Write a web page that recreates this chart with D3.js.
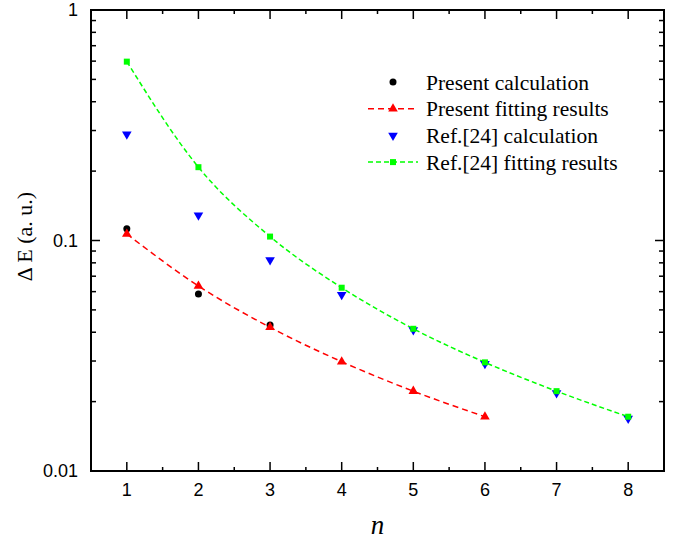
<!DOCTYPE html>
<html><head><meta charset="utf-8">
<script src="https://cdn.jsdelivr.net/npm/d3@7"></script>
<style>body{margin:0;background:#fff}svg{display:block}</style>
</head><body>
<svg id="c" width="685" height="541"></svg>
<script>
const nAll = [1,2,3,4,5,6,7,8];
const presentCalcN = [1,2,3];
const presentCalc = [0.1125,0.0586,0.0430];
const presentFitN = [1,2,3,4,5,6];
const presentFit = [0.1067,0.0635,0.0420,0.0298,0.0222,0.0172];
const refCalcN = [1,2,3,4,5,6,7,8];
const refCalc = [0.289,0.1286,0.0823,0.0582,0.0409,0.0292,0.0218,0.0169];
const refFitN = [1,2,3,4,5,6,7,8];
const refFit = [0.597,0.208,0.104,0.0624,0.0414,0.0296,0.0222,0.0172];
const yTickValues = [0.01,0.1,1];
const yTickLabels = ["0.01","0.1","1"];
const legendLabels = ["Present calculation","Present fitting results","Ref.[24] calculation","Ref.[24] fitting results"];

const svg = d3.select("#c");
const L=91, R=664, T=10, B=471;
const x = d3.scaleLinear().domain([0.5,8.5]).range([L,R]);
const y = d3.scaleLog().domain([0.01,1]).range([B,T]);

const yMinor = [];
[0.01,0.1].forEach(d=>{for(let k=2;k<=9;k++) yMinor.push(d*k);});
const xMinor = d3.range(1.5,8.5,1);

const g = svg.append("g");
const tickStroke = "#000";
[[L,1],[R,-1]].forEach(([x0,dir])=>{
  g.selectAll(null).data(yTickValues).enter().append("line")
    .attr("x1",x0).attr("x2",x0+dir*9).attr("y1",d=>y(d)).attr("y2",d=>y(d))
    .attr("stroke",tickStroke).attr("stroke-width",1.5);
  g.selectAll(null).data(yMinor).enter().append("line")
    .attr("x1",x0).attr("x2",x0+dir*5).attr("y1",d=>y(d)).attr("y2",d=>y(d))
    .attr("stroke",tickStroke).attr("stroke-width",1.5);
});
[[B,-1],[T,1]].forEach(([y0,dir])=>{
  g.selectAll(null).data(nAll).enter().append("line")
    .attr("x1",d=>x(d)).attr("x2",d=>x(d)).attr("y1",y0).attr("y2",y0+dir*9)
    .attr("stroke",tickStroke).attr("stroke-width",1.5);
  g.selectAll(null).data(xMinor).enter().append("line")
    .attr("x1",d=>x(d)).attr("x2",d=>x(d)).attr("y1",y0).attr("y2",y0+dir*4)
    .attr("stroke",tickStroke).attr("stroke-width",1.5);
});
g.append("rect").attr("x",L).attr("y",T).attr("width",R-L).attr("height",B-T)
  .attr("fill","none").attr("stroke","#000").attr("stroke-width",2);

g.selectAll(null).data(yTickValues).enter().append("text")
  .attr("x",L-13).attr("y",d=>y(d)).attr("dy","0.35em").attr("text-anchor","end")
  .attr("font-family","Liberation Sans, Arial, sans-serif").attr("font-size",18)
  .text((d,i)=>yTickLabels[i]);
g.selectAll(null).data(nAll).enter().append("text")
  .attr("x",d=>x(d)).attr("y",B+25).attr("text-anchor","middle")
  .attr("font-family","Liberation Sans, Arial, sans-serif").attr("font-size",18)
  .text(d=>d);

svg.append("text").attr("transform",`translate(32,${(T+B)/2-4}) rotate(-90)`)
  .attr("text-anchor","middle").attr("font-family","Liberation Serif, Times New Roman, serif")
  .attr("font-size",22).text("\u0394 E (a. u.)");
svg.append("text").attr("x",(L+R)/2).attr("y",534).attr("text-anchor","middle")
  .attr("font-family","Liberation Serif, Times New Roman, serif").attr("font-style","italic")
  .attr("font-size",27).text("n");

const plot = svg.append("g");
const line = d3.line().x(d=>x(d[0])).y(d=>y(d[1])).curve(d3.curveMonotoneX);
plot.append("path").datum(presentFitN.map((n,i)=>[n,presentFit[i]]))
  .attr("d",line).attr("fill","none").attr("stroke","#ff0000").attr("stroke-width",1.5).attr("stroke-dasharray","6,4");
plot.append("path").datum(refFitN.map((n,i)=>[n,refFit[i]]))
  .attr("d",line).attr("fill","none").attr("stroke","#00ff00").attr("stroke-width",1.5).attr("stroke-dasharray","5,3");

const triUp = d3.symbol().type(d3.symbolTriangle).size(40);
const sq = d3.symbol().type(d3.symbolSquare).size(36);
function downTri(cx,cy){ return `translate(${cx},${cy}) rotate(180)`; }

plot.selectAll(null).data(refCalcN).enter().append("path")
  .attr("d",triUp()).attr("fill","#0000ff")
  .attr("transform",(d,i)=>downTri(x(d),y(refCalc[i])));
plot.selectAll(null).data(refFitN).enter().append("path")
  .attr("d",sq()).attr("fill","#00ff00")
  .attr("transform",(d,i)=>`translate(${x(d)},${y(refFit[i])})`);
plot.selectAll(null).data(presentCalcN).enter().append("circle")
  .attr("cx",d=>x(d)).attr("cy",(d,i)=>y(presentCalc[i])).attr("r",3.5).attr("fill","#000");
plot.selectAll(null).data(presentFitN).enter().append("path")
  .attr("d",triUp()).attr("fill","#ff0000")
  .attr("transform",(d,i)=>`translate(${x(d)},${y(presentFit[i])})`);

const lg = svg.append("g");
const ly0 = 82, ldy = 26.7, lsx = 393, ltx = 426;
legendLabels.forEach((t,i)=>{
  const yy = ly0 + i*ldy;
  if(i===1||i===3){
    lg.append("line").attr("x1",368).attr("x2",418).attr("y1",yy).attr("y2",yy)
      .attr("stroke", i===1?"#ff0000":"#00ff00").attr("stroke-width",1.5).attr("stroke-dasharray", i===1?"6,4":"5,3");
  }
  if(i===0) lg.append("circle").attr("cx",lsx).attr("cy",yy).attr("r",3.5).attr("fill","#000");
  if(i===1) lg.append("path").attr("d",triUp()).attr("fill","#ff0000").attr("transform",`translate(${lsx},${yy})`);
  if(i===2) lg.append("path").attr("d",triUp()).attr("fill","#0000ff").attr("transform",downTri(lsx,yy));
  if(i===3) lg.append("path").attr("d",sq()).attr("fill","#00ff00").attr("transform",`translate(${lsx},${yy})`);
  lg.append("text").attr("x",ltx).attr("y",yy).attr("dy","0.35em")
    .attr("font-family","Liberation Serif, Times New Roman, serif").attr("font-size",21.5).text(t);
});
</script>
</body></html>
